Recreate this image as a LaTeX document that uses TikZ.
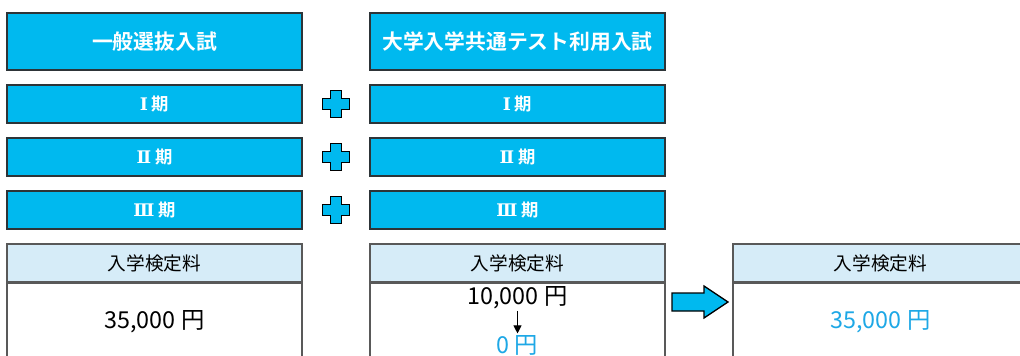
\documentclass[tikz,border=0pt]{standalone}
\usepackage{fontspec}
\setmainfont{Noto Sans CJK JP}[BoldFont={Noto Sans CJK JP Bold}]
\newfontfamily\romanfont{DejaVu Serif}
\usetikzlibrary{positioning,arrows.meta}

\definecolor{kyan}{RGB}{0,185,239}
\definecolor{hdrblue}{RGB}{214,236,248}
\definecolor{numblue}{RGB}{30,168,230}
\definecolor{edge}{RGB}{45,52,56}

\tikzset{
	titlebox/.style={draw=edge, line width=1pt, fill=kyan, text=white, inner sep=0pt,
		minimum width=221.25pt, minimum height=42.75pt,
		font=\bfseries\fontsize{15.6pt}{15.6pt}\selectfont},
	periodbox/.style={titlebox, minimum height=28.5pt,
		font=\bfseries\fontsize{13pt}{13pt}\selectfont},
	feehead/.style={draw=black!65, line width=0.9pt, fill=hdrblue, inner sep=0pt,
		minimum width=221.25pt, minimum height=28.5pt,
		font=\fontsize{14pt}{14pt}\selectfont},
	feebody/.style={draw=black!65, line width=0.9pt, fill=white, inner sep=0pt,
		minimum width=221.25pt, minimum height=66pt},
	fee/.style={inner sep=1pt, font=\fontsize{17.5pt}{17.5pt}\selectfont},
	plusmark/.style={draw=black, line width=1pt, fill=kyan, line join=miter}
}

\begin{document}
\begin{tikzpicture}[x=0.75pt, y=-0.75pt]

\clip (0,0) rectangle (1020,356);

\def\colA{154.5}
\def\colB{517.5}
\def\colC{880.5}

% titles
\node [titlebox] (ippan) at (\colA,41.5) {一般選抜入試};
\node [titlebox] (kyotsu) at (\colB,41.5) {大学入学共通テスト利用入試};

% periods and plus marks
\foreach \r/\lbl [count=\i] in {104/Ⅰ, 157/Ⅱ, 210/Ⅲ} {
	\node [periodbox] (ippan\i) at (\colA,\r) {{\romanfont\lbl}\hspace{3pt}期};
	\node [periodbox] (kyotsu\i) at (\colB,\r) {{\romanfont\lbl}\hspace{3pt}期};
	\draw [plusmark] (336,\r) ++(-5.3,-13.3) -- ++(10.6,0) -- ++(0,8) -- ++(8,0)
		-- ++(0,10.6) -- ++(-8,0) -- ++(0,8) -- ++(-10.6,0) -- ++(0,-8)
		-- ++(-8,0) -- ++(0,-10.6) -- ++(8,0) -- cycle;
}

% fees
\node [feehead] (headA) at (\colA,263) {入学検定料};
\node [feehead] (headB) at (\colB,263) {入学検定料};
\node [feehead] (headC) at (\colC,263) {入学検定料};
\node [feebody, below=0pt of headA] (bodyA) {};
\node [feebody, below=0pt of headB] (bodyB) {};
\node [feebody, below=0pt of headC] (bodyC) {};

\node [fee] (feeA) at (\colA,322) {35,000\hspace{4pt}円};
\node [fee] (feeB) at (\colB,298) {10,000\hspace{4pt}円};
\node [fee, text=numblue] (feeBzero) at (\colB,345) {0\hspace{4pt}円};
\node [fee, text=numblue] (feeC) at (\colC,322) {35,000\hspace{4pt}円};

\draw [-{Triangle[length=6pt,width=6pt]}, line width=0.8pt] (feeB) -- (feeBzero);

% big arrow
\draw [plusmark] (672,293) -- (704,293) -- (704,286) -- (728,302) -- (704,318)
	-- (704,311) -- (672,311) -- cycle;

\end{tikzpicture}
\end{document}
